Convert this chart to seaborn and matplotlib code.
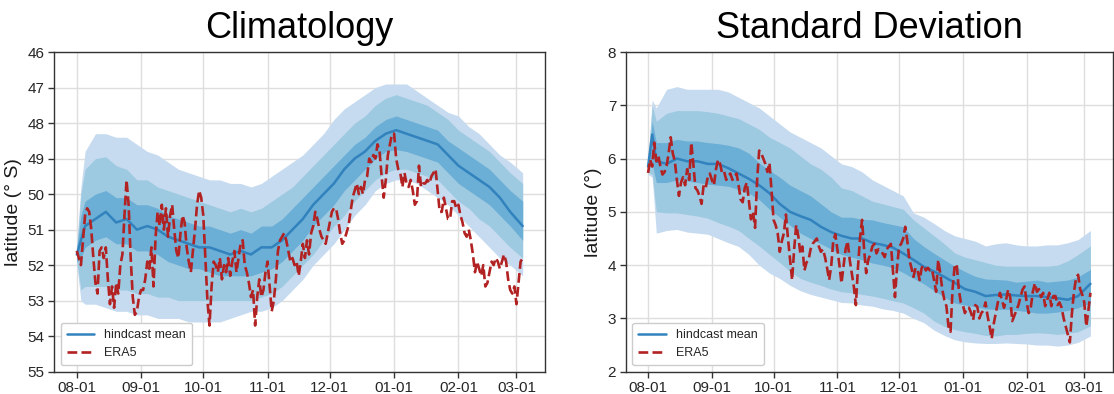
import numpy as np
import pandas as pd
import matplotlib
matplotlib.use("Agg")
import matplotlib.pyplot as plt
import matplotlib.dates as mdates
import seaborn as sns

# ---------------------------------------------------------------------------
# Data: daily southern-hemisphere jet latitude, 1 Aug -> 4 Mar
# ---------------------------------------------------------------------------
season_start = pd.Timestamp("2000-08-01")

# day offsets at which the hindcast statistics are stored
band_days = [0, 2, 4, 9, 14, 19, 24, 29, 34, 39,
             44, 49, 54, 59, 64, 69, 74, 79, 84, 89,
             94, 99, 104, 109, 114, 119, 124, 129, 134, 139,
             144, 149, 154, 159, 164, 169, 174, 179, 184, 189,
             194, 199, 204, 209, 215]

# ---- Climatology (latitude, deg S) ----
clim_mean = [51.7, 51.3, 50.9, 50.7, 50.5, 50.8, 50.7, 51.0, 50.9, 51.0,
             51.2, 51.3, 51.4, 51.5, 51.5, 51.6, 51.7, 51.6, 51.7, 51.5,
             51.5, 51.3, 51.0, 50.7, 50.3, 50.0, 49.7, 49.3, 49.0, 48.8,
             48.5, 48.3, 48.2, 48.3, 48.4, 48.5, 48.6, 48.9, 49.2, 49.4,
             49.6, 49.8, 50.1, 50.5, 50.9]
clim_inner_lo = [51.5, 50.6, 50.2, 50.0, 49.9, 50.1, 50.1, 50.3, 50.3, 50.4,
                 50.6, 50.7, 50.8, 50.9, 50.9, 51.0, 51.1, 51.0, 51.1, 50.9,
                 50.9, 50.7, 50.4, 50.1, 49.8, 49.5, 49.2, 48.9, 48.6, 48.4,
                 48.1, 47.9, 47.8, 47.9, 48.0, 48.1, 48.2, 48.5, 48.7, 48.9,
                 49.1, 49.3, 49.6, 49.9, 50.2]
clim_inner_hi = [51.9, 51.8, 51.5, 51.3, 51.2, 51.4, 51.4, 51.6, 51.6, 51.7,
                 51.9, 52.0, 52.1, 52.1, 52.2, 52.3, 52.3, 52.3, 52.3, 52.2,
                 52.1, 51.9, 51.6, 51.3, 50.9, 50.6, 50.3, 49.9, 49.6, 49.3,
                 49.0, 48.8, 48.75, 48.8, 48.9, 49.0, 49.1, 49.4, 49.7, 49.9,
                 50.1, 50.3, 50.6, 50.9, 51.3]
clim_mid_lo = [51.5, 50.0, 49.3, 49.0, 48.95, 49.2, 49.3, 49.6, 49.6, 49.8,
               49.9, 50.0, 50.1, 50.2, 50.3, 50.4, 50.5, 50.4, 50.5, 50.4,
               50.2, 50.0, 49.8, 49.5, 49.2, 48.9, 48.6, 48.3, 48.0, 47.8,
               47.5, 47.3, 47.2, 47.3, 47.4, 47.5, 47.7, 47.9, 48.2, 48.4,
               48.6, 48.8, 49.1, 49.4, 49.7]
clim_mid_hi = [51.9, 52.7, 52.6, 52.6, 52.6, 52.7, 52.7, 52.8, 52.8, 52.9,
               52.9, 53.0, 53.0, 53.0, 53.0, 53.0, 53.0, 53.0, 53.0, 52.9,
               52.8, 52.6, 52.3, 52.0, 51.7, 51.3, 50.9, 50.6, 50.2, 49.9,
               49.6, 49.4, 49.3, 49.3, 49.4, 49.5, 49.6, 49.9, 50.2, 50.4,
               50.7, 50.9, 51.2, 51.5, 51.8]
clim_outer_lo = [51.4, 49.8, 48.8, 48.3, 48.3, 48.4, 48.4, 48.6, 48.8, 48.9,
                 49.1, 49.3, 49.4, 49.5, 49.6, 49.6, 49.7, 49.7, 49.8, 49.7,
                 49.5, 49.3, 49.1, 48.9, 48.6, 48.3, 47.9, 47.6, 47.4, 47.2,
                 47.0, 46.9, 46.9, 46.9, 47.1, 47.3, 47.5, 47.7, 47.8, 48.1,
                 48.3, 48.6, 48.9, 49.1, 49.4]
clim_outer_hi = [52.0, 53.0, 53.1, 53.1, 53.2, 53.3, 53.3, 53.4, 53.4, 53.5,
                 53.5, 53.5, 53.6, 53.6, 53.6, 53.6, 53.5, 53.4, 53.3, 53.3,
                 53.2, 53.0, 52.7, 52.4, 52.0, 51.7, 51.4, 51.0, 50.6, 50.3,
                 49.9, 49.7, 49.6, 49.6, 49.7, 49.9, 50.1, 50.3, 50.6, 50.9,
                 51.2, 51.5, 51.8, 52.0, 52.3]
era5_clim = [51.6, 51.8, 52.0, 51.3, 50.6, 50.4, 50.5, 51.0, 51.8, 52.5,
             52.8, 51.6, 51.5, 51.8, 51.5, 52.4, 53.1, 52.6, 53.2, 52.5,
             52.8, 52.0, 51.7, 50.6, 49.6, 50.3, 51.8, 52.9, 53.4, 53.3,
             52.9, 52.7, 52.7, 52.4, 51.9, 52.1, 51.5, 52.6, 51.2, 50.5,
             50.9, 50.3, 51.0, 50.4, 51.2, 50.6, 50.3, 51.0, 51.6, 51.8,
             51.1, 50.6, 50.8, 51.5, 51.9, 52.2, 51.6, 51.0, 50.3, 49.9,
             50.1, 50.6, 51.8, 53.0, 53.7, 52.6, 51.9, 52.0, 52.2, 51.8,
             52.4, 52.0, 52.2, 51.8, 52.3, 51.9, 51.6, 52.2, 51.8, 51.4,
             51.3, 52.0, 52.2, 52.5, 52.9, 52.7, 53.7, 52.9, 52.4, 52.9,
             52.7, 52.2, 51.9, 52.6, 53.3, 53.0, 52.4, 51.6, 51.3, 51.2,
             51.1, 51.3, 51.6, 51.9, 51.8, 52.0, 51.9, 52.3, 51.9, 51.4,
             51.8, 51.3, 51.7, 51.1, 50.9, 50.5, 50.7, 51.0, 51.2, 51.3,
             51.4, 51.1, 50.8, 50.5, 50.4, 50.4, 50.7, 51.1, 51.4, 51.3,
             51.1, 50.9, 50.5, 50.1, 49.9, 49.7, 50.0, 49.8, 50.0, 49.6,
             49.5, 49.0, 49.1, 48.9, 49.0, 48.6, 48.8, 49.5, 50.1, 49.6,
             48.9, 48.6, 48.3, 48.3, 49.0, 49.3, 49.4, 49.8, 49.4, 49.7,
             49.8, 49.6, 49.9, 50.3, 50.2, 49.2, 49.8, 49.7, 49.7, 49.6,
             49.7, 49.5, 49.4, 49.3, 49.9, 50.5, 50.5, 50.1, 50.4, 50.7,
             50.7, 50.2, 50.2, 50.4, 50.3, 50.6, 50.8, 51.1, 51.2, 51.0,
             51.3, 51.7, 52.2, 51.9, 52.1, 52.3, 52.0, 52.6, 52.5, 52.2,
             51.9, 52.0, 51.8, 51.9, 52.1, 51.9, 51.7, 51.9, 52.4, 52.7,
             52.8, 52.6, 53.1, 52.5, 51.9, 51.8]

# ---- Standard deviation (deg) ----
sd_mean = [5.85, 6.45, 5.95, 5.9, 6.0, 5.95, 5.95, 5.9, 5.9, 5.82,
           5.72, 5.62, 5.5, 5.35, 5.15, 5.0, 4.92, 4.85, 4.72, 4.62,
           4.55, 4.5, 4.5, 4.42, 4.38, 4.33, 4.22, 4.1, 3.97, 3.88,
           3.78, 3.67, 3.55, 3.5, 3.42, 3.44, 3.45, 3.43, 3.42, 3.42,
           3.4, 3.38, 3.35, 3.42, 3.65]
sd_outer_hi = [6.0, 7.1, 6.95, 7.3, 7.35, 7.3, 7.3, 7.3, 7.3, 7.25,
               7.15, 7.05, 6.95, 6.8, 6.65, 6.5, 6.4, 6.3, 6.2, 6.05,
               5.9, 5.85, 5.75, 5.6, 5.5, 5.4, 5.3, 4.98, 4.9, 4.78,
               4.65, 4.55, 4.5, 4.45, 4.36, 4.4, 4.42, 4.38, 4.36, 4.36,
               4.38, 4.38, 4.42, 4.48, 4.65]
sd_mid_hi = [5.95, 7.0, 6.7, 6.85, 6.9, 6.9, 6.9, 6.88, 6.85, 6.8,
             6.75, 6.65, 6.55, 6.4, 6.3, 6.2, 6.05, 5.9, 5.8, 5.65,
             5.45, 5.4, 5.3, 5.2, 5.15, 5.1, 5.05, 4.85, 4.7, 4.55,
             4.4, 4.23, 4.15, 4.1, 4.05, 4.0, 3.98, 3.98, 3.98, 3.98,
             3.98, 4.0, 4.08, 4.2, 4.36]
sd_inner_hi = [5.9, 6.7, 6.3, 6.3, 6.36, 6.33, 6.33, 6.3, 6.28, 6.25,
               6.2, 6.1, 5.92, 5.78, 5.65, 5.5, 5.4, 5.3, 5.15, 5.0,
               4.9, 4.9, 4.86, 4.85, 4.8, 4.76, 4.72, 4.5, 4.35, 4.22,
               4.1, 3.98, 3.88, 3.79, 3.74, 3.73, 3.72, 3.68, 3.7, 3.72,
               3.68, 3.7, 3.72, 3.78, 3.92]
sd_inner_lo = [5.82, 5.9, 5.55, 5.55, 5.6, 5.58, 5.55, 5.52, 5.5, 5.48,
               5.42, 5.35, 5.23, 5.05, 4.9, 4.75, 4.6, 4.5, 4.4, 4.3,
               4.2, 4.15, 4.1, 4.04, 4.0, 3.95, 3.86, 3.75, 3.65, 3.52,
               3.4, 3.29, 3.25, 3.22, 3.18, 3.17, 3.17, 3.15, 3.13, 3.1,
               3.1, 3.12, 3.15, 3.2, 3.29]
sd_mid_lo = [5.75, 5.7, 5.0, 4.98, 4.98, 4.95, 4.92, 4.88, 4.8, 4.73,
             4.65, 4.5, 4.36, 4.2, 4.05, 3.88, 3.75, 3.68, 3.62, 3.55,
             3.5, 3.48, 3.45, 3.42, 3.38, 3.33, 3.29, 3.2, 3.1, 2.95,
             2.85, 2.79, 2.75, 2.72, 2.68, 2.67, 2.7, 2.7, 2.72, 2.73,
             2.72, 2.7, 2.72, 2.75, 2.86]
sd_outer_lo = [5.7, 5.65, 4.6, 4.65, 4.67, 4.62, 4.6, 4.58, 4.5, 4.42,
               4.35, 4.2, 4.0, 3.85, 3.75, 3.62, 3.52, 3.45, 3.4, 3.35,
               3.3, 3.29, 3.25, 3.23, 3.18, 3.15, 3.1, 3.0, 2.92, 2.78,
               2.68, 2.6, 2.56, 2.54, 2.53, 2.53, 2.54, 2.53, 2.52, 2.5,
               2.5, 2.48, 2.5, 2.55, 2.67]
era5_sd = [5.73, 5.98, 5.85, 6.3, 5.95, 6.05, 5.85, 5.7, 5.75, 5.86,
           6.1, 6.4, 6.1, 5.95, 5.6, 5.3, 5.55, 5.65, 5.5, 5.8,
           5.6, 6.3, 5.9, 5.45, 5.4, 5.3, 5.15, 5.5, 5.45, 5.65,
           5.72, 5.6, 5.5, 5.8, 5.98, 5.9, 5.72, 5.75, 5.6, 5.68,
           5.72, 5.6, 5.66, 5.72, 5.5, 5.23, 5.18, 5.45, 5.55, 5.2,
           4.86, 5.0, 4.7, 5.6, 6.15, 6.1, 6.0, 5.9, 5.75, 5.92,
           5.4, 4.85, 4.75, 4.6, 4.25, 4.45, 4.6, 4.95, 4.5, 4.1,
           3.72, 4.3, 4.75, 4.55, 4.22, 4.35, 3.9, 4.05, 4.1, 4.3,
           4.4, 4.45, 4.5, 4.35, 4.25, 4.3, 4.15, 3.95, 3.72, 3.98,
           4.45, 4.58, 4.3, 4.0, 3.66, 3.98, 4.3, 4.45, 4.1, 3.85,
           3.6, 3.25, 3.95, 4.5, 4.85, 4.3, 3.85, 4.1, 4.2, 4.35,
           4.4, 4.22, 4.3, 4.28, 4.22, 4.15, 4.3, 4.35, 4.4, 3.9,
           3.4, 3.95, 4.35, 4.4, 4.5, 4.72, 4.45, 4.1, 3.95, 3.78,
           3.95, 3.9, 3.72, 3.95, 4.0, 3.9, 3.95, 3.9, 3.92, 3.72,
           3.5, 4.1, 3.85, 3.54, 3.35, 3.23, 2.85, 2.75, 3.55, 3.98,
           4.02, 3.55, 3.3, 3.25, 3.1, 3.2, 3.2, 3.1, 2.97, 3.25,
           3.22, 3.0, 3.1, 3.15, 3.3, 3.05, 2.85, 2.62, 2.9, 3.1,
           3.3, 3.48, 3.35, 3.2, 3.35, 3.54, 3.4, 2.95, 3.05, 3.15,
           3.25, 3.4, 3.54, 3.6, 3.3, 3.1, 3.2, 3.5, 3.66, 3.5,
           3.55, 3.4, 3.48, 3.23, 3.35, 3.48, 3.23, 3.42, 3.42, 3.25,
           3.3, 3.2, 3.0, 2.85, 2.7, 2.55, 3.1, 3.5, 3.75, 3.82,
           3.55, 3.45, 3.3, 2.85, 3.15, 3.48]

band_dates = season_start + pd.to_timedelta(band_days, unit="D")
era_dates = season_start + pd.to_timedelta(np.arange(len(era5_clim)), unit="D")

# ---------------------------------------------------------------------------
# Style
# ---------------------------------------------------------------------------
sns.set_theme(style="whitegrid", rc={
    "axes.edgecolor": "0.2",
    "axes.linewidth": 1.0,
    "grid.color": "0.87",
    "grid.linewidth": 1.0,
    "xtick.bottom": True,
    "ytick.left": True,
    "xtick.color": "0.2",
    "ytick.color": "0.2",
})
plt.rcParams["font.family"] = ["Liberation Sans", "DejaVu Sans"]

OUTER_C = "#c6dbef"
MID_C = "#9ecae1"
INNER_C = "#6baed6"
MEAN_C = "#3182bd"
ERA_C = "#b22222"

fig = plt.figure(figsize=(11.14, 3.94), dpi=100)
ax_clim = fig.add_axes([0.0489, 0.0566, 0.4403, 0.8114])
ax_sd = fig.add_axes([0.5619, 0.0566, 0.4368, 0.8114])


def draw_panel(ax, title, ylabel, bands, mean, era, ylim, yticks):
    for (lo, hi), col in zip(bands, [OUTER_C, MID_C, INNER_C]):
        ax.fill_between(band_dates, lo, hi, color=col, linewidth=0, zorder=1)
    sns.lineplot(x=band_dates, y=mean, ax=ax, color=MEAN_C, linewidth=1.8,
                 label="hindcast mean", zorder=3)
    sns.lineplot(x=era_dates, y=era, ax=ax, color=ERA_C, linewidth=1.9,
                 linestyle="--", label="ERA5", zorder=4)

    ax.set_ylim(*ylim)
    ax.set_yticks(yticks)
    ax.margins(x=0.05)
    ax.xaxis.set_major_locator(mdates.MonthLocator())
    ax.xaxis.set_major_formatter(mdates.DateFormatter("%m-%d"))
    ax.tick_params(axis="both", labelsize=11, length=4, width=1, pad=3,
                   labelcolor="0.15")
    ax.set_xlabel("")
    ax.set_ylabel(ylabel, fontsize=14, color="0.1")
    ax.set_title(title, fontsize=26, pad=10, color="black")
    for side in ax.spines.values():
        side.set_visible(True)
        side.set_color("0.2")
    ax.legend(loc="lower left", fontsize=9, frameon=True, framealpha=1,
              edgecolor="0.8", borderpad=0.5, handlelength=2.2)


draw_panel(ax_clim, "Climatology", "latitude (° S)",
           [(clim_outer_lo, clim_outer_hi), (clim_mid_lo, clim_mid_hi),
            (clim_inner_lo, clim_inner_hi)],
           clim_mean, era5_clim, (55, 46), np.arange(46, 56))

draw_panel(ax_sd, "Standard Deviation", "latitude (°)",
           [(sd_outer_lo, sd_outer_hi), (sd_mid_lo, sd_mid_hi),
            (sd_inner_lo, sd_inner_hi)],
           sd_mean, era5_sd, (2, 8), np.arange(2, 9))

fig.savefig("out.png", dpi=100)
